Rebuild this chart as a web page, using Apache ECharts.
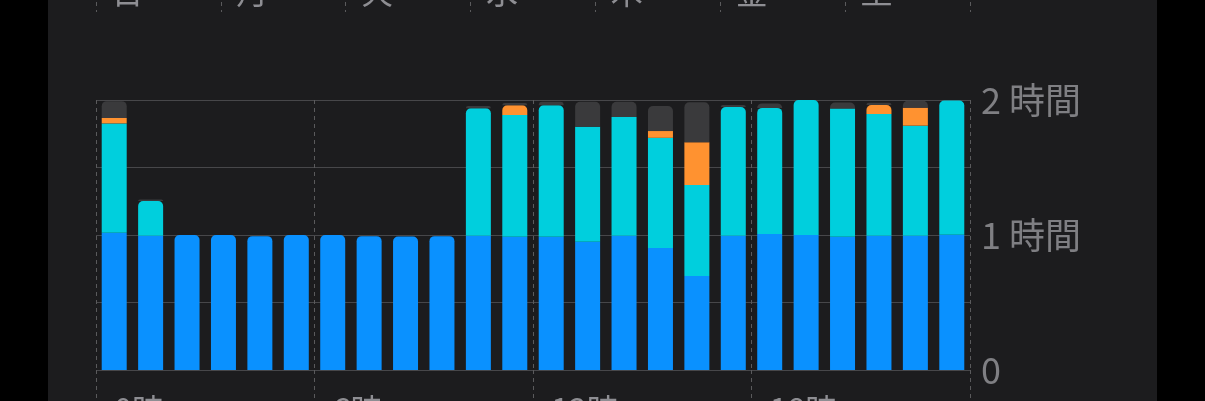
<!DOCTYPE html>
<html><head><meta charset="utf-8">
<script src="https://cdn.jsdelivr.net/npm/echarts@6/dist/echarts.min.js"></script>
<style>
html,body{margin:0;padding:0;background:#000;width:1205px;height:401px;overflow:hidden}
#panel{position:absolute;left:48px;top:0;width:1109px;height:401px;background:#1c1c1e}
#chart{position:absolute;left:0;top:0;width:1205px;height:401px}
</style></head><body>
<div id="panel"></div><div id="chart"></div>
<script>
// ---- data (minutes per hour) ----
const days = ['日','月','火','水','木','金','土'];
const hours = ['0時','1時','2時','3時','4時','5時','6時','7時','8時','9時','10時','11時',
               '12時','13時','14時','15時','16時','17時','18時','19時','20時','21時','22時','23時'];
const blue   = [61, 59.7, 60, 60, 59.5, 60, 60, 59.5, 59.3, 59.5, 59.7, 59.2, 59.2, 57, 59.7, 54.2, 41.8, 59.7, 60.4, 60, 59.2, 59.7, 59.7, 60.1];
const cyan   = [48.6, 15.4, 0, 0, 0, 0, 0, 0, 0, 0, 56.6, 54.1, 58.5, 51.1, 52.7, 49, 40.4, 57.2, 56.1, 60, 57, 54.1, 48.9, 59.7];
const orange = [2.4, 0, 0, 0, 0, 0, 0, 0, 0, 0, 0, 4.4, 0, 0, 0, 3.0, 19, 0, 0, 0, 0, 4, 8, 0];
const gray   = [7.5, 0.7, 0, 0, 0, 0, 0, 0, 0, 0, 1, 1.0, 1.5, 11.1, 6.8, 11.1, 17.8, 0.9, 2.0, 0, 2.7, 1.0, 3.1, 0];
const yTickValues = [0, 60, 120];
const yTickLabels = ['0', '1 時間', '2 時間'];

// ---- styling ----
const FONT = '"Noto Sans CJK JP", "Noto Sans", sans-serif';
const segs = [blue, cyan, orange, gray];
const colors = ['#0a91ff', '#00cfdd', '#ff9230', '#3a3a3c'];
const names = ['blue', 'cyan', 'orange', 'gray'];
const GRID_C = '#47474a';
const DASH_C = '#5a5a5c';

function roundedSet(i) {
  const nz = [];
  segs.forEach((s, k) => { if (s[i] > 0) nz.push(k); });
  const r = new Set();
  if (nz.length) {
    const t = nz[nz.length - 1];
    r.add(t);
    if (segs[t][i] < 2.5 && nz.length > 1) r.add(nz[nz.length - 2]);
  }
  return r;
}

const series = segs.map((s, k) => ({
  type: 'bar', name: names[k], stack: 'total', barWidth: 25,
  xAxisIndex: 0, yAxisIndex: 0,
  itemStyle: { color: colors[k] },
  data: s.map((v, i) => roundedSet(i).has(k)
    ? { value: v, itemStyle: { borderRadius: [5, 5, 0, 0] } }
    : { value: v })
}));

const chart = echarts.init(document.getElementById('chart'), null, { renderer: 'canvas' });
chart.setOption({
  backgroundColor: 'transparent',
  animation: false,
  grid: [
    { left: 96, right: 235, top: 100, height: 270, containLabel: false, outerBoundsMode: 'none' },
    { left: 96, right: 235, top: -30, height: 42, containLabel: false, outerBoundsMode: 'none' }
  ],
  xAxis: [
    {
      type: 'category', gridIndex: 0, data: hours, boundaryGap: true,
      axisLine: { show: false },
      axisTick: { show: true, interval: 5, length: 32, lineStyle: { color: DASH_C, type: [4, 4] } },
      axisLabel: { interval: 5, align: 'left', verticalAlign: 'top', margin: 24, fontSize: 32,
                   color: '#8e8e93', fontFamily: FONT },
      splitLine: { show: true, interval: 5, lineStyle: { color: DASH_C, type: [4, 4] } }
    },
    {
      type: 'category', gridIndex: 1, data: days, position: 'bottom', boundaryGap: true,
      axisLine: { show: false }, axisTick: { show: false },
      axisLabel: { inside: true, margin: 4, fontSize: 32, align: 'right', padding: [0, 15, 0, 0],
                   color: '#8e8e93', fontFamily: FONT },
      splitLine: { show: true, lineStyle: { color: DASH_C, type: [4, 4] } }
    }
  ],
  yAxis: [
    {
      type: 'value', gridIndex: 0, position: 'right', min: 0, max: 120, interval: 30,
      axisLine: { show: false }, axisTick: { show: false },
      axisLabel: { margin: 11, fontSize: 36, color: '#7f7f83', fontFamily: FONT,
                   formatter: v => { const j = yTickValues.indexOf(v); return j >= 0 ? yTickLabels[j] : ''; } },
      splitLine: { show: true, lineStyle: { color: GRID_C, width: 1 } }
    },
    { type: 'value', gridIndex: 1, show: false }
  ],
  series: series
});
</script>
</body></html>
